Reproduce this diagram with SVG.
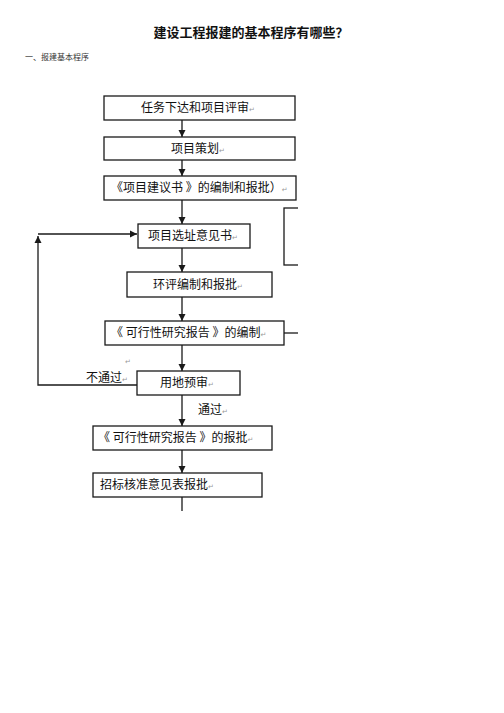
<svg xmlns="http://www.w3.org/2000/svg" width="504" height="713" viewBox="0 0 504 713">
<style>
.box{fill:#fff;stroke:#1a1a1a;stroke-width:1.3}
.ln{fill:none;stroke:#1a1a1a;stroke-width:1.3}
.t{font-family:"Noto Sans CJK SC","Noto Sans",sans-serif;font-size:12px;fill:#111}
.r{font-family:"DejaVu Sans",sans-serif;font-size:7px;fill:#999}
.lbl{font-family:"Noto Sans CJK SC","Noto Sans",sans-serif;font-size:12px;fill:#111}
</style>
<defs>
<marker id="ah" markerWidth="8" markerHeight="8" refX="7" refY="4" orient="auto" markerUnits="userSpaceOnUse">
<path d="M0,0.5 L7,4 L0,7.5 Z" fill="#1a1a1a"/>
</marker>
<clipPath id="page"><rect x="0" y="0" width="298" height="713"/></clipPath>
</defs>
<rect width="504" height="713" fill="#fff"/>
<text x="251" y="37" text-anchor="middle" font-family="Noto Sans CJK SC,sans-serif" font-size="13" font-weight="bold" fill="#111">建设工程报建的基本程序有哪些？</text>
<text x="25" y="60" font-family="Noto Sans CJK SC,sans-serif" font-size="8" fill="#333">一、报建基本程序</text>

<g id="connectors" clip-path="url(#page)">
<line class="ln" x1="182" y1="120" x2="182" y2="137" marker-end="url(#ah)"/>
<line class="ln" x1="182" y1="160" x2="182" y2="176" marker-end="url(#ah)"/>
<line class="ln" x1="182" y1="200" x2="182" y2="224" marker-end="url(#ah)"/>
<line class="ln" x1="182" y1="248" x2="182" y2="272" marker-end="url(#ah)"/>
<line class="ln" x1="182" y1="297" x2="182" y2="321" marker-end="url(#ah)"/>
<line class="ln" x1="182" y1="345" x2="182" y2="371" marker-end="url(#ah)"/>
<line class="ln" x1="182" y1="395" x2="182" y2="426" marker-end="url(#ah)"/>
<line class="ln" x1="182" y1="450" x2="182" y2="473" marker-end="url(#ah)"/>
<line class="ln" x1="182" y1="497" x2="182" y2="511"/>
<polyline class="ln" points="137,385 38,385 38,236" marker-end="url(#ah)"/>
<line class="ln" x1="38" y1="234" x2="137" y2="234" marker-end="url(#ah)"/>
<line class="ln" x1="284" y1="333" x2="298" y2="333"/>
<text class="lbl" x="86" y="382">不通过<tspan class="r">↵</tspan></text>
<text class="lbl" x="198" y="414">通过<tspan class="r">↵</tspan></text>
<text class="r" x="125" y="364">↵</text>
</g>

<g id="n1"><rect class="box" x="104" y="96" width="191" height="24"/><text class="t" x="141" y="112">任务下达和项目评审<tspan class="r">↵</tspan></text></g>
<g id="n2"><rect class="box" x="104" y="137" width="191" height="23"/><text class="t" x="171" y="153">项目策划<tspan class="r">↵</tspan></text></g>
<g id="n3" clip-path="url(#page)"><rect class="box" x="104" y="176" width="192" height="24"/><text class="t" x="111" y="192">《项目建议书 》的编制和报批）<tspan class="r">↵</tspan></text></g>
<g id="n_side" clip-path="url(#page)"><rect class="box" x="284" y="208" width="30" height="57"/></g>
<g id="n4"><rect class="box" x="138" y="224" width="112" height="24"/><text class="t" x="148" y="240">项目选址意见书<tspan class="r">↵</tspan></text></g>
<g id="n5"><rect class="box" x="127" y="272" width="145" height="25"/><text class="t" x="153" y="289">环评编制和报批<tspan class="r">↵</tspan></text></g>
<g id="n6"><rect class="box" x="105" y="321" width="179" height="24"/><text class="t" x="111" y="337">《 可行性研究报告 》的编制<tspan class="r">↵</tspan></text></g>
<g id="n7"><rect class="box" x="137" y="371" width="103" height="24"/><text class="t" x="160" y="387">用地预审<tspan class="r">↵</tspan></text></g>
<g id="n8"><rect class="box" x="93" y="426" width="179" height="24"/><text class="t" x="98" y="442">《 可行性研究报告 》的报批<tspan class="r">↵</tspan></text></g>
<g id="n9"><rect class="box" x="93" y="473" width="169" height="24"/><text class="t" x="100" y="489">招标核准意见表报批<tspan class="r">↵</tspan></text></g>
</svg>
